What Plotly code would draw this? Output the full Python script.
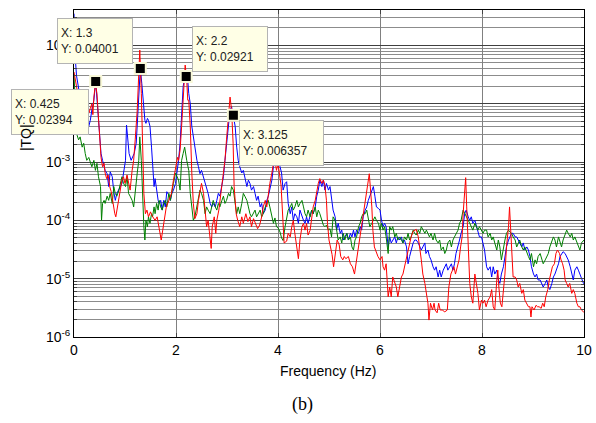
import math
import plotly.graph_objects as go

# ---------------- data ----------------
red = [(0.0,3.5e-2),(0.025,2.5e-2),(0.05,1.8e-2),(0.1,1.1e-2),(0.15,8.0e-3),(0.2,6.5e-3),(0.25,6.5e-3),
(0.29,6.8e-3),(0.32,8.3e-3),(0.35,1.0e-2),(0.37,6.5e-3),(0.39,1.3e-2),(0.42,2.2e-2),(0.45,1.5e-2),(0.47,7.8e-3),
(0.50,3.1e-3),(0.53,1.2e-3),(0.56,8.3e-4),(0.59,9.5e-4),(0.61,6.5e-4),(0.64,5.2e-4),(0.67,6.0e-4),(0.70,3.8e-4),
(0.73,3.1e-4),(0.76,1.95e-4),(0.80,1.3e-4),(0.82,1.15e-4),(0.85,1.7e-4),(0.88,2.6e-4),(0.92,3.8e-4),(0.94,4.9e-4),
(0.97,5.6e-4),(1.00,4.3e-4),(1.04,6.0e-4),(1.07,4.3e-4),(1.10,3.3e-4),(1.14,7.2e-4),(1.17,1.07e-3),(1.20,2.4e-3),
(1.24,7.8e-3),(1.27,3.3e-2),(1.29,8.3e-2),(1.32,1.5e-2),(1.34,2.1e-3),(1.37,2.9e-4),(1.40,1.3e-4),(1.43,1.5e-4),
(1.46,1.15e-4),(1.50,1.4e-4),(1.53,1.2e-4),(1.56,1.07e-4),(1.59,1.0e-4),(1.63,1.15e-4),(1.66,8.3e-5),(1.69,5.2e-5),
(1.71,4.6e-5),(1.74,6.8e-5),(1.78,1.3e-4),(1.81,1.7e-4),(1.86,2.2e-4),(1.91,2.9e-4),(1.95,4.9e-4),(2.00,8.3e-4),
(2.03,1.2e-3),(2.05,1.07e-3),(2.08,1.6e-3),(2.11,4.1e-3),(2.14,1.5e-2),(2.16,3.3e-2),(2.18,4.6e-2),(2.21,2.6e-2),
(2.23,1.15e-2),(2.25,1.15e-2),(2.28,4.1e-3),(2.31,6.5e-4),(2.34,1.95e-4),(2.37,1.07e-4),(2.41,1.3e-4),(2.44,2.2e-4),
(2.47,3.3e-4),(2.50,4.3e-4),(2.54,2.9e-4),(2.57,1.5e-4),(2.60,7.8e-5),(2.63,1.0e-4),(2.67,5.2e-5),(2.69,3.3e-5),
(2.71,7.8e-5),(2.75,1.15e-4),(2.78,6.0e-5),(2.80,1.0e-4),(2.84,1.5e-4),(2.88,2.9e-4),(2.93,5.6e-4),(2.96,1.07e-3),
(2.99,2.4e-3),(3.03,7.8e-3),(3.06,1.3e-2),(3.09,7.8e-3),(3.12,2.1e-3),(3.14,3.8e-4),(3.18,1.3e-4),(3.21,1.0e-4),
(3.25,7.8e-5),(3.29,1.15e-4),(3.32,8.9e-5),(3.37,1.3e-4),(3.41,9.5e-5),(3.45,1.15e-4),(3.48,7.8e-5),(3.52,1.07e-4),
(3.56,8.9e-5),(3.60,7.2e-5),(3.64,8.3e-5),(3.68,1.15e-4),(3.71,1.7e-4),(3.75,2.2e-4),(3.78,1.7e-4),(3.81,2.9e-4),
(3.84,4.3e-4),(3.88,6.5e-4),(3.91,9.5e-4),(3.94,1.07e-3),(3.97,7.2e-4),(4.00,9.5e-4),(4.06,4.0e-4),(4.12,4.1e-5),
(4.17,4.4e-5),(4.20,6.0e-5),(4.24,5.2e-5),(4.27,7.8e-5),(4.30,1.0e-4),(4.33,6.0e-5),(4.37,3.5e-5),(4.40,2.2e-5),
(4.43,4.6e-5),(4.47,7.8e-5),(4.50,8.9e-5),(4.53,6.8e-5),(4.56,8.9e-5),(4.59,5.6e-5),(4.63,6.8e-5),(4.66,1.0e-4),
(4.69,1.7e-4),(4.73,2.2e-4),(4.76,3.3e-4),(4.79,4.3e-4),(4.82,5.2e-4),(4.86,4.3e-4),(4.89,4.9e-4),(4.92,4.0e-4),
(4.95,2.2e-4),(4.97,8.9e-5),(5.00,4.6e-5),(5.03,3.5e-5),(5.06,2.6e-5),(5.09,1.6e-5),(5.13,2.7e-5),(5.16,4.6e-5),
(5.20,3.8e-5),(5.23,2.4e-5),(5.27,2.1e-5),(5.30,2.4e-5),(5.33,2.2e-5),(5.38,2.4e-5),(5.42,1.8e-5),(5.46,1.6e-5),
(5.50,1.2e-5),(5.53,1.8e-5),(5.56,3.1e-5),(5.59,4.6e-5),(5.63,6.8e-5),(5.66,1.0e-4),(5.69,1.5e-4),(5.73,2.6e-4),
(5.76,4.3e-4),(5.79,6.3e-4),(5.84,1.7e-4),(5.86,6.8e-5),(5.89,3.5e-5),(5.93,2.7e-5),(5.96,2.4e-5),(6.00,2.1e-5),
(6.04,2.4e-5),(6.06,1.6e-5),(6.09,1.4e-5),(6.12,1.8e-5),(6.16,4.9e-6),(6.19,7.2e-6),(6.22,4.9e-6),(6.25,1.07e-5),
(6.29,8.3e-6),(6.32,7.2e-6),(6.35,4.9e-6),(6.39,8.3e-6),(6.42,1.07e-5),(6.45,1.2e-5),(6.48,1.6e-5),(6.52,2.1e-5),
(6.55,3.1e-5),(6.58,4.1e-5),(6.61,5.2e-5),(6.65,6.5e-5),(6.68,6.8e-5),(6.71,7.0e-5),(6.75,5.2e-5),(6.78,3.5e-5),
(6.81,2.1e-5),(6.84,1.2e-5),(6.88,8.3e-6),(6.92,4.9e-6),(6.94,3.8e-6),(6.96,1.95e-6),(6.99,3.8e-6),(7.03,2.9e-6),
(7.06,3.8e-6),(7.08,2.9e-6),(7.12,2.6e-6),(7.15,3.8e-6),(7.18,2.9e-6),(7.22,2.9e-6),(7.27,2.7e-6),(7.32,2.9e-6),
(7.35,7.2e-6),(7.39,1.2e-5),(7.42,1.4e-5),(7.45,1.6e-5),(7.48,1.2e-5),(7.52,1.6e-5),(7.55,2.1e-5),(7.58,3.5e-5),
(7.61,5.2e-5),(7.63,1.3e-4),(7.66,3.3e-4),(7.68,5.4e-4),(7.70,1.7e-4),(7.73,2.4e-5),(7.76,8.3e-6),(7.79,4.9e-6),
(7.82,3.8e-6),(7.86,1.2e-5),(7.89,8.3e-6),(7.92,5.6e-6),(7.95,2.9e-6),(7.99,4.3e-6),(8.02,3.8e-6),(8.05,4.3e-6),
(8.08,3.3e-6),(8.12,4.3e-6),(8.16,4.9e-6),(8.19,6.5e-6),(8.22,3.3e-6),(8.25,2.9e-6),(8.29,9.5e-6),(8.31,1.4e-5),
(8.33,7.2e-6),(8.36,3.8e-6),(8.39,3.3e-6),(8.42,5.6e-6),(8.45,1.2e-5),(8.48,3.5e-5),(8.52,7.8e-5),(8.54,1.7e-4),
(8.56,7.8e-5),(8.58,2.7e-5),(8.61,1.07e-5),(8.65,1.07e-5),(8.68,9.5e-6),(8.71,7.2e-6),(8.74,8.3e-6),(8.78,5.6e-6),
(8.81,6.5e-6),(8.84,4.3e-6),(8.88,3.8e-6),(8.91,3.3e-6),(8.94,3.3e-6),(8.96,2.2e-6),(8.98,3.3e-6),(9.02,2.9e-6),
(9.06,3.5e-6),(9.09,3.3e-6),(9.12,3.3e-6),(9.16,3.1e-6),(9.19,3.8e-6),(9.22,3.3e-6),(9.25,4.9e-6),(9.29,6.5e-6),
(9.32,9.5e-6),(9.35,1.2e-5),(9.38,1.6e-5),(9.42,1.8e-5),(9.45,2.7e-5),(9.48,3.1e-5),(9.52,2.7e-5),(9.55,2.1e-5),
(9.58,1.8e-5),(9.61,1.4e-5),(9.63,9.5e-6),(9.66,8.3e-6),(9.69,7.2e-6),(9.72,8.3e-6),(9.76,5.6e-6),(9.79,6.5e-6),
(9.82,5.6e-6),(9.86,3.8e-6),(9.89,3.3e-6),(9.92,3.3e-6),(9.95,2.9e-6),(9.99,2.7e-6),(10.0,2.7e-6)]

blue = [(0.0,3.5e-1),(0.025,6.0e-2),(0.05,3.0e-2),(0.1,1.5e-2),(0.15,9.0e-3),(0.2,6.0e-3),(0.25,4.5e-3),
(0.29,4.1e-3),(0.32,5.2e-3),(0.35,7.8e-3),(0.39,1.15e-2),(0.425,2.394e-2),(0.45,1.3e-2),(0.47,7.8e-3),(0.50,4.1e-3),
(0.53,1.4e-3),(0.56,1.07e-3),(0.59,8.3e-4),(0.61,7.2e-4),(0.65,6.3e-4),(0.68,3.8e-4),(0.71,6.8e-4),(0.75,5.6e-4),
(0.78,3.1e-4),(0.81,2.2e-4),(0.84,2.9e-4),(0.88,3.3e-4),(0.91,3.8e-4),(0.94,4.3e-4),(0.97,6.3e-4),(1.01,1.07e-3),
(1.03,4.3e-3),(1.05,2.4e-3),(1.08,1.4e-3),(1.12,1.07e-3),(1.15,1.2e-3),(1.18,1.4e-3),(1.22,2.1e-3),(1.24,4.1e-3),
(1.27,1.15e-2),(1.29,2.9e-2),(1.30,4.001e-2),(1.33,2.2e-2),(1.36,1.0e-2),(1.39,5.2e-3),(1.41,4.6e-3),(1.44,5.6e-3),
(1.46,5.2e-3),(1.49,4.1e-3),(1.52,1.8e-3),(1.54,8.3e-4),(1.57,3.8e-4),(1.59,5.2e-4),(1.62,3.3e-4),(1.65,2.2e-4),
(1.67,1.95e-4),(1.70,2.2e-4),(1.73,1.5e-4),(1.76,2.2e-4),(1.79,1.7e-4),(1.82,3.1e-4),(1.86,2.7e-4),(1.89,2.2e-4),
(1.92,2.9e-4),(1.95,3.3e-4),(1.99,4.3e-4),(2.02,6.5e-4),(2.05,1.07e-3),(2.08,2.1e-3),(2.11,6.0e-3),(2.14,1.95e-2),
(2.18,3.3e-2),(2.20,2.921e-2),(2.23,2.5e-2),(2.25,1.5e-2),(2.28,1.0e-2),(2.31,4.1e-3),(2.34,2.7e-3),(2.37,1.6e-3),
(2.41,1.07e-3),(2.44,8.3e-4),(2.47,6.3e-4),(2.50,7.2e-4),(2.54,5.6e-4),(2.57,4.3e-4),(2.60,3.8e-4),(2.63,2.9e-4),
(2.67,1.95e-4),(2.70,1.7e-4),(2.73,1.95e-4),(2.77,1.7e-4),(2.80,2.2e-4),(2.83,2.9e-4),(2.86,2.6e-4),(2.90,3.8e-4),
(2.93,5.6e-4),(2.96,1.07e-3),(2.99,2.1e-3),(3.03,4.1e-3),(3.06,7.8e-3),(3.09,8.9e-3),(3.125,6.357e-3),(3.16,4.1e-3),
(3.19,1.8e-3),(3.22,1.07e-3),(3.25,8.3e-4),(3.29,6.5e-4),(3.32,7.2e-4),(3.35,5.6e-4),(3.39,3.8e-4),(3.42,4.9e-4),
(3.45,4.3e-4),(3.48,3.3e-4),(3.52,3.8e-4),(3.55,2.9e-4),(3.58,2.2e-4),(3.61,2.6e-4),(3.65,1.7e-4),(3.68,1.95e-4),
(3.71,1.3e-4),(3.75,1.5e-4),(3.78,2.2e-4),(3.81,2.6e-4),(3.84,3.3e-4),(3.88,4.9e-4),(3.91,8.3e-4),(3.94,8.9e-4),
(3.97,1.1e-3),(4.00,1.1e-3),(4.04,8.3e-4),(4.07,6.5e-4),(4.10,3.3e-4),(4.14,4.3e-4),(4.17,4.6e-4),(4.20,1.95e-4),
(4.24,1.3e-4),(4.27,1.7e-4),(4.30,1.0e-4),(4.33,1.3e-4),(4.37,1.15e-4),(4.40,8.9e-5),(4.43,1.5e-4),(4.47,1.15e-4),
(4.50,1.0e-4),(4.53,8.9e-5),(4.56,1.15e-4),(4.59,8.9e-5),(4.63,1.15e-4),(4.66,1.5e-4),(4.69,1.3e-4),(4.73,1.7e-4),
(4.76,2.6e-4),(4.79,3.3e-4),(4.82,4.9e-4),(4.86,3.8e-4),(4.89,4.9e-4),(4.92,3.3e-4),(4.95,4.3e-4),(4.99,3.3e-4),
(5.02,3.8e-4),(5.05,2.2e-4),(5.08,1.5e-4),(5.12,1.15e-4),(5.15,6.8e-5),(5.18,8.9e-5),(5.22,6.0e-5),(5.25,6.8e-5),
(5.28,4.6e-5),(5.31,5.2e-5),(5.35,6.0e-5),(5.38,4.6e-5),(5.42,6.0e-5),(5.45,5.2e-5),(5.48,6.8e-5),(5.51,5.2e-5),
(5.54,6.8e-5),(5.58,6.0e-5),(5.61,7.8e-5),(5.64,6.8e-5),(5.67,1.15e-4),(5.71,1.5e-4),(5.74,1.7e-4),(5.77,2.2e-4),
(5.80,2.6e-4),(5.84,3.3e-4),(5.87,3.8e-4),(5.90,2.6e-4),(5.93,1.7e-4),(5.97,1.6e-4),(6.00,1.5e-4),(6.03,1.0e-4),
(6.06,7.8e-5),(6.09,8.9e-5),(6.12,7.8e-5),(6.16,3.5e-5),(6.19,5.2e-5),(6.22,4.1e-5),(6.25,4.6e-5),(6.29,5.2e-5),
(6.32,4.1e-5),(6.35,5.2e-5),(6.39,4.6e-5),(6.42,5.2e-5),(6.45,4.1e-5),(6.48,4.6e-5),(6.52,3.5e-5),(6.55,1.8e-5),
(6.58,2.4e-5),(6.61,3.1e-5),(6.65,4.1e-5),(6.68,4.6e-5),(6.71,4.6e-5),(6.75,4.1e-5),(6.78,3.5e-5),(6.81,3.1e-5),
(6.84,3.5e-5),(6.88,4.1e-5),(6.90,2.7e-5),(6.94,3.1e-5),(6.97,2.4e-5),(7.00,2.1e-5),(7.04,1.6e-5),(7.07,1.4e-5),
(7.10,1.6e-5),(7.14,1.07e-5),(7.17,1.4e-5),(7.20,1.07e-5),(7.24,1.4e-5),(7.27,1.6e-5),(7.30,1.8e-5),(7.33,1.4e-5),
(7.37,1.6e-5),(7.40,1.8e-5),(7.43,1.4e-5),(7.46,1.8e-5),(7.49,2.7e-5),(7.53,3.5e-5),(7.56,4.6e-5),(7.59,6.0e-5),
(7.63,7.8e-5),(7.66,1.3e-4),(7.69,1.5e-4),(7.73,1.15e-4),(7.76,1.0e-4),(7.79,1.15e-4),(7.82,8.9e-5),(7.86,1.0e-4),
(7.89,7.8e-5),(7.92,6.8e-5),(7.95,5.2e-5),(7.99,5.2e-5),(8.02,4.1e-5),(8.05,3.1e-5),(8.09,1.6e-5),(8.12,1.4e-5),
(8.16,1.6e-5),(8.19,1.07e-5),(8.22,1.6e-5),(8.25,1.2e-5),(8.29,1.4e-5),(8.32,9.5e-6),(8.35,8.3e-6),(8.38,1.2e-5),
(8.42,1.6e-5),(8.45,2.4e-5),(8.48,3.5e-5),(8.52,4.6e-5),(8.55,5.2e-5),(8.58,6.0e-5),(8.61,6.0e-5),(8.65,5.2e-5),
(8.68,5.2e-5),(8.71,4.6e-5),(8.74,4.1e-5),(8.78,3.5e-5),(8.81,4.1e-5),(8.84,3.1e-5),(8.88,3.5e-5),(8.91,3.1e-5),
(8.94,2.4e-5),(8.97,1.6e-5),(9.01,1.2e-5),(9.04,1.07e-5),(9.07,1.2e-5),(9.10,9.5e-6),(9.14,9.5e-6),(9.17,8.3e-6),
(9.20,7.2e-6),(9.24,8.3e-6),(9.27,9.5e-6),(9.30,7.2e-6),(9.33,6.5e-6),(9.37,8.3e-6),(9.40,1.07e-5),(9.43,1.2e-5),
(9.46,1.4e-5),(9.50,1.8e-5),(9.53,2.4e-5),(9.56,2.7e-5),(9.59,2.9e-5),(9.63,2.7e-5),(9.66,2.4e-5),(9.69,2.1e-5),
(9.73,1.6e-5),(9.76,1.2e-5),(9.79,9.5e-6),(9.82,1.4e-5),(9.86,1.6e-5),(9.89,1.4e-5),(9.92,1.2e-5),(9.95,9.5e-6),
(9.99,8.3e-6),(10.0,8.3e-6)]

green = [(0.0,3.0e-2),(0.025,1.2e-2),(0.04,6.0e-3),(0.06,2.9e-3),(0.09,2.4e-3),(0.12,2.7e-3),(0.16,1.8e-3),
(0.19,2.1e-3),(0.22,1.4e-3),(0.25,1.07e-3),(0.29,1.2e-3),(0.32,9.5e-4),(0.35,8.3e-4),(0.39,1.07e-3),(0.42,7.2e-4),
(0.45,9.5e-4),(0.48,5.6e-4),(0.52,3.8e-4),(0.54,1.0e-4),(0.56,1.95e-4),(0.59,2.2e-4),(0.61,1.95e-4),(0.65,2.6e-4),
(0.68,2.2e-4),(0.71,2.9e-4),(0.75,1.95e-4),(0.78,3.8e-4),(0.81,2.9e-4),(0.84,2.6e-4),(0.88,3.3e-4),(0.91,4.3e-4),
(0.94,5.6e-4),(0.97,4.3e-4),(1.01,3.8e-4),(1.04,5.6e-4),(1.07,2.9e-4),(1.10,2.6e-4),(1.14,2.2e-4),(1.17,1.7e-4),
(1.20,3.3e-4),(1.24,6.5e-4),(1.27,1.07e-3),(1.29,2.7e-3),(1.32,1.07e-3),(1.34,2.9e-4),(1.37,7.8e-5),(1.39,4.6e-5),
(1.41,1.0e-4),(1.44,7.8e-5),(1.46,1.15e-4),(1.49,8.9e-5),(1.52,1.3e-4),(1.54,1.15e-4),(1.57,1.7e-4),(1.59,1.3e-4),
(1.62,1.95e-4),(1.65,1.5e-4),(1.67,2.2e-4),(1.70,1.7e-4),(1.73,1.5e-4),(1.76,1.95e-4),(1.79,2.2e-4),(1.82,1.7e-4),
(1.86,2.9e-4),(1.89,2.2e-4),(1.92,3.3e-4),(1.95,4.3e-4),(1.99,6.5e-4),(2.02,5.6e-4),(2.05,4.9e-4),(2.08,3.3e-4),
(2.11,1.07e-3),(2.14,1.4e-3),(2.17,1.8e-3),(2.21,1.07e-3),(2.25,7.2e-4),(2.28,2.9e-4),(2.31,1.5e-4),(2.34,1.0e-4),
(2.37,1.15e-4),(2.41,1.7e-4),(2.44,2.2e-4),(2.47,3.3e-4),(2.50,2.9e-4),(2.54,2.2e-4),(2.57,1.3e-4),(2.60,1.7e-4),
(2.63,1.5e-4),(2.67,1.3e-4),(2.70,1.7e-4),(2.73,2.2e-4),(2.77,1.7e-4),(2.80,1.5e-4),(2.83,1.95e-4),(2.86,1.7e-4),
(2.90,2.2e-4),(2.93,2.6e-4),(2.96,1.95e-4),(2.99,2.2e-4),(3.03,2.9e-4),(3.06,2.6e-4),(3.09,3.8e-4),(3.125,3.3e-4),
(3.16,1.95e-4),(3.19,1.3e-4),(3.22,1.7e-4),(3.25,1.3e-4),(3.29,1.95e-4),(3.32,2.9e-4),(3.35,2.6e-4),(3.39,2.2e-4),
(3.42,1.7e-4),(3.45,1.3e-4),(3.48,1.15e-4),(3.52,1.3e-4),(3.55,1.5e-4),(3.58,1.15e-4),(3.61,1.3e-4),(3.65,1.5e-4),
(3.68,1.15e-4),(3.71,1.3e-4),(3.75,1.7e-4),(3.78,1.95e-4),(3.81,2.2e-4),(3.84,1.7e-4),(3.88,1.15e-4),(3.91,8.9e-5),
(3.94,1.1e-4),(3.97,7.8e-5),(4.00,7.5e-5),(4.04,6.3e-5),(4.07,5.0e-5),(4.10,4.5e-5),(4.14,7.9e-5),(4.17,1.15e-4),
(4.20,1.5e-4),(4.24,1.7e-4),(4.27,1.95e-4),(4.30,1.5e-4),(4.33,1.7e-4),(4.37,2.2e-4),(4.40,1.7e-4),(4.43,1.95e-4),
(4.47,2.2e-4),(4.50,1.7e-4),(4.53,1.3e-4),(4.56,1.15e-4),(4.59,1.5e-4),(4.63,1.15e-4),(4.66,1.5e-4),(4.69,1.3e-4),
(4.73,1.7e-4),(4.76,1.15e-4),(4.79,1.5e-4),(4.82,1.3e-4),(4.86,1.0e-4),(4.89,8.3e-5),(4.92,7.8e-5),(4.95,8.3e-5),
(4.99,6.8e-5),(5.02,7.2e-5),(5.05,5.2e-5),(5.08,1.15e-4),(5.12,1.0e-4),(5.15,6.8e-5),(5.18,4.6e-5),(5.22,5.2e-5),
(5.25,4.1e-5),(5.28,6.0e-5),(5.31,4.6e-5),(5.35,6.0e-5),(5.38,4.6e-5),(5.42,5.2e-5),(5.45,3.5e-5),(5.48,3.1e-5),
(5.51,4.6e-5),(5.54,5.2e-5),(5.58,7.8e-5),(5.61,8.9e-5),(5.64,1.15e-4),(5.67,1.3e-4),(5.71,1.3e-4),(5.74,1.5e-4),
(5.77,1.0e-4),(5.80,7.8e-5),(5.84,8.9e-5),(5.87,1.0e-4),(5.90,1.15e-4),(5.93,1.0e-4),(5.97,8.9e-5),(6.00,6.8e-5),
(6.03,8.9e-5),(6.06,6.8e-5),(6.09,7.8e-5),(6.12,5.2e-5),(6.16,2.7e-5),(6.19,7.8e-5),(6.22,6.8e-5),(6.25,7.8e-5),
(6.29,5.2e-5),(6.32,6.0e-5),(6.35,4.6e-5),(6.39,5.2e-5),(6.42,4.6e-5),(6.45,4.1e-5),(6.48,5.2e-5),(6.52,4.6e-5),
(6.55,6.0e-5),(6.58,4.6e-5),(6.61,5.2e-5),(6.65,6.8e-5),(6.68,6.0e-5),(6.71,5.6e-5),(6.75,6.8e-5),(6.78,6.0e-5),
(6.81,7.8e-5),(6.84,6.8e-5),(6.88,6.0e-5),(6.91,6.8e-5),(6.94,6.0e-5),(6.97,5.2e-5),(7.00,6.0e-5),(7.04,4.6e-5),
(7.07,6.0e-5),(7.10,4.6e-5),(7.14,4.1e-5),(7.17,4.6e-5),(7.20,3.1e-5),(7.24,3.5e-5),(7.27,2.7e-5),(7.30,3.1e-5),
(7.33,4.1e-5),(7.37,4.6e-5),(7.40,3.5e-5),(7.43,4.6e-5),(7.46,5.2e-5),(7.49,6.0e-5),(7.53,6.8e-5),(7.56,8.9e-5),
(7.59,1.0e-4),(7.63,1.5e-4),(7.66,1.3e-4),(7.69,1.15e-4),(7.73,1.0e-4),(7.76,8.9e-5),(7.79,7.8e-5),(7.82,6.8e-5),
(7.86,8.9e-5),(7.89,7.8e-5),(7.92,6.8e-5),(7.95,7.8e-5),(7.99,6.8e-5),(8.02,6.0e-5),(8.05,6.8e-5),(8.09,6.8e-5),
(8.12,5.2e-5),(8.16,6.0e-5),(8.19,4.6e-5),(8.22,5.2e-5),(8.25,4.1e-5),(8.29,3.1e-5),(8.32,4.6e-5),(8.35,3.5e-5),
(8.38,2.1e-5),(8.42,3.5e-5),(8.45,4.6e-5),(8.48,6.0e-5),(8.52,6.8e-5),(8.55,6.3e-5),(8.58,6.0e-5),(8.61,5.2e-5),
(8.65,4.6e-5),(8.68,3.5e-5),(8.71,4.1e-5),(8.74,4.6e-5),(8.78,3.5e-5),(8.81,3.1e-5),(8.84,3.5e-5),(8.88,2.7e-5),
(8.91,2.4e-5),(8.94,2.1e-5),(8.97,2.7e-5),(9.01,1.6e-5),(9.04,2.1e-5),(9.07,1.8e-5),(9.10,2.4e-5),(9.14,2.7e-5),
(9.17,2.1e-5),(9.20,1.8e-5),(9.24,2.1e-5),(9.27,2.4e-5),(9.30,2.7e-5),(9.33,3.5e-5),(9.37,4.6e-5),(9.40,5.2e-5),
(9.43,4.6e-5),(9.46,3.5e-5),(9.50,5.2e-5),(9.53,4.1e-5),(9.56,3.5e-5),(9.59,4.6e-5),(9.63,6.0e-5),(9.66,6.8e-5),
(9.69,6.0e-5),(9.73,5.2e-5),(9.76,6.0e-5),(9.79,4.6e-5),(9.82,5.2e-5),(9.86,4.1e-5),(9.89,3.5e-5),(9.92,3.1e-5),
(9.95,4.1e-5),(9.99,4.6e-5),(10.0,4.6e-5)]

# data tips (on the blue curve)
tip_x = [0.425, 1.3, 2.2, 3.125]
tip_y = [0.02394, 0.04001, 0.02921, 0.006357]
tip_labels = ["X: 0.425<br>Y: 0.02394", "X: 1.3<br>Y: 0.04001",
              "X: 2.2<br>Y: 0.02921", "X: 3.125<br>Y: 0.006357"]

x_ticks = [0, 2, 4, 6, 8, 10]
y_ticks = [1e-6, 1e-5, 1e-4, 1e-3, 1e-2, 1e-1]
y_ticktext = ["10<sup>-6</sup>", "10<sup>-5</sup>", "10<sup>-4</sup>",
              "10<sup>-3</sup>", "10<sup>-2</sup>", "10<sup>-1</sup>"]

# ---------------- figure ----------------
FONT = "Liberation Sans, Arial, sans-serif"
fig = go.Figure()

for series, col in ((blue, "#0000FF"), (green, "#008000"), (red, "#FF0000")):
    fx, fy = zip(*series)
    fig.add_trace(go.Scatter(x=list(fx), y=list(fy), mode="lines",
                             line=dict(color=col, width=1), hoverinfo="skip"))

fig.add_trace(go.Scatter(x=tip_x, y=tip_y, mode="markers",
                         marker=dict(symbol="square", size=11, color="black",
                                     line=dict(color="#F8F8D8", width=2)),
                         hoverinfo="skip"))

minor_vals = [k * d for d in y_ticks for k in range(2, 10)]

fig.update_layout(
    width=596, height=423, showlegend=False,
    margin=dict(l=74, r=12, t=10, b=86, autoexpand=False),
    paper_bgcolor="white", plot_bgcolor="white",
    font=dict(family=FONT, size=14, color="black"),
    xaxis=dict(range=[0, 10], tickvals=x_ticks, ticks="inside", ticklen=4,
               showline=True, linecolor="black", linewidth=1, mirror="ticks",
               showgrid=True, gridcolor="#808080", gridwidth=1, zeroline=False,
               automargin=False, tickfont=dict(family=FONT, size=14)),
    yaxis=dict(type="log", range=[-6, -0.393], tickvals=y_ticks, ticktext=y_ticktext,
               ticks="inside", ticklen=4, showline=True, linecolor="black", linewidth=1,
               mirror="ticks", showgrid=True, gridcolor="#404040", gridwidth=1,
               zeroline=False, automargin=False, tickfont=dict(family=FONT, size=14),
               minor=dict(tickmode="array", tickvals=minor_vals, ticks="inside",
                          ticklen=3, showgrid=True, gridcolor="#8C8C8C", gridwidth=1)),
)

offsets = [(-46, 30, 70), (-45, -28, 68), (44, -28, 68), (48, 28, 77)]
for x, y, txt, (dx, dy, w) in zip(tip_x, tip_y, tip_labels, offsets):
    fig.add_annotation(x=x, y=math.log10(y), xref="x", yref="y", text=txt,
                       showarrow=False, xanchor="center", yanchor="middle",
                       xshift=dx, yshift=-dy, align="left", width=w, height=38,
                       bgcolor="#FFFFE6", bordercolor="#B4B4B4", borderwidth=1,
                       borderpad=3, font=dict(family=FONT, size=12, color="#202020"))

fig.add_annotation(text="|TQ|", xref="paper", yref="paper", x=-0.095, y=0.61,
                   showarrow=False, textangle=-90, xanchor="center", yanchor="middle",
                   font=dict(family=FONT, size=14, color="black"))
fig.add_annotation(text="Frequency (Hz)", xref="paper", yref="paper", x=0.498, y=-0.104,
                   showarrow=False, xanchor="center", yanchor="middle",
                   font=dict(family=FONT, size=14, color="black"))
fig.add_annotation(text="(b)", xref="paper", yref="paper", x=0.449, y=-0.205,
                   showarrow=False, xanchor="center", yanchor="middle",
                   font=dict(family="Liberation Serif, Times New Roman, serif", size=18,
                             color="black"))

fig.write_html("out.html", config={"displayModeBar": False},
               post_script="document.body.style.margin='0';document.body.style.padding='0';")
